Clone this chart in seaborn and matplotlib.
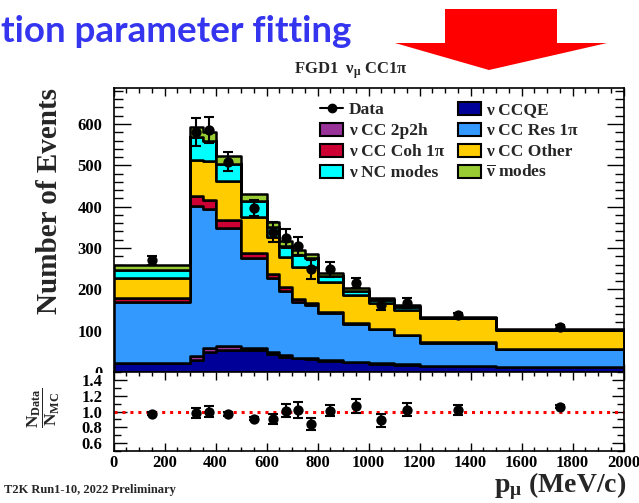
import numpy as np
import pandas as pd
import matplotlib
matplotlib.use("Agg")
import matplotlib.pyplot as plt
import seaborn as sns
from matplotlib.patches import Patch, Polygon, Rectangle
from matplotlib.lines import Line2D
from matplotlib.ticker import MultipleLocator, FormatStrFormatter

# ---------------- data ----------------
edges = [0, 300, 350, 400, 500, 600, 650, 700, 750, 800, 900, 1000, 1100, 1200, 1500, 2000]
centers = [150, 325, 375, 450, 550, 625, 675, 725, 775, 850, 950, 1050, 1150, 1350, 1750]

ccqe  = [22, 30, 48, 54, 53, 43, 37, 33, 31, 27, 23, 20, 18, 14, 12]
cc2p2h = [0.5, 9, 10, 8, 6, 6, 3, 2, 2, 2, 1, 1, 1, 1, 0.5]
ccres = [147.5, 362, 336, 287, 216, 179, 156, 134, 129, 113, 92, 82, 70, 56, 42.5]
cccoh = [10, 25, 23, 18, 13, 8, 9, 7, 5, 4, 2, 1, 1, 1, 0.5]
ccother = [47, 88, 93, 94, 86, 91, 74, 78, 88, 72, 68, 62, 60, 58, 45.5]
ncmodes = [20, 55, 49, 42, 40, 24, 26, 29, 21, 14, 11, 9, 8, 1, 1]
nubar = [11, 23, 22, 20, 16, 12, 12, 12, 9, 8, 5, 4, 4, 1, 1]

data = [270, 581, 585, 509, 396, 339, 323, 305, 248, 248, 216, 162, 167, 137, 109]
data_err = [10, 34, 32, 22, 19, 25, 24, 22, 22, 19, 12, 12, 12, 6, 5]

ratio = [0.97, 0.98, 1.00, 0.97, 0.91, 0.91, 1.01, 1.02, 0.84, 1.01, 1.07, 0.89, 1.02, 1.02, 1.06]
ratio_err = [0.02, 0.06, 0.067, 0.03, 0.02, 0.062, 0.083, 0.096, 0.08, 0.07, 0.087, 0.08, 0.083, 0.06, 0.02]

mode_names = ["ν CCQE", "ν CC 2p2h", "ν CC Res 1π", "ν CC Coh 1π", "ν CC Other",
              "ν NC modes", r"$\overline{\nu}$ modes"]
mode_values = [ccqe, cc2p2h, ccres, cccoh, ccother, ncmodes, nubar]
mode_colors = ["#000099", "#993399", "#3399ff", "#cc0033", "#ffcc00", "#00ffff", "#99cc33"]

# ---------------- style ----------------
sns.set_theme(style="ticks")
plt.rcParams.update({
    "font.family": ["Liberation Serif", "DejaVu Serif"],
    "font.weight": "bold",
    "mathtext.fontset": "custom",
    "mathtext.rm": "Liberation Serif:bold",
    "mathtext.it": "Liberation Serif:italic:bold",
    "mathtext.bf": "Liberation Serif:bold",
    "mathtext.default": "rm",
    "axes.linewidth": 1.2,
    "axes.edgecolor": "black",
    "xtick.direction": "in",
    "ytick.direction": "in",
    "xtick.color": "black",
    "ytick.color": "black",
})

W, H = 639, 503
fig = plt.figure(figsize=(W / 100, H / 100), dpi=100)

def fx(px):
    return px / W

def fy(py):
    return 1 - py / H

left, right = 113.5, 623.5
ax = fig.add_axes([fx(left), fy(372), (right - left) / W, (372 - 88) / H])
axr = fig.add_axes([fx(left), fy(451), (right - left) / W, (451 - 372) / H])
axr.set_zorder(3)

# ratio pad background covers the lower part of the main pad's labels (ROOT-like)
fig.patches.append(Rectangle((0, fy(451)), fx(left), (451 - 373) / H,
                             transform=fig.transFigure, facecolor="white",
                             edgecolor="none", zorder=2))

# ---------------- stacked histogram ----------------
rows = []
for name, vals in zip(mode_names, mode_values):
    for c, v in zip(centers, vals):
        rows.append({"p": c, "n": v, "mode": name})
df = pd.DataFrame(rows)

palette = dict(zip(mode_names, mode_colors))
hue_order = mode_names[::-1]  # seaborn stacks last level at the bottom
sns.histplot(data=df, x="p", weights="n", hue="mode", hue_order=hue_order,
             bins=edges, multiple="stack", element="step", fill=True,
             palette=palette, alpha=1, edgecolor="black", linewidth=1.8,
             legend=False, ax=ax)

# data points
ax.errorbar(centers, data, yerr=data_err, fmt="none", ecolor="black",
            elinewidth=1.5, capsize=3.5, capthick=1.5, zorder=5)
sns.scatterplot(x=centers, y=data, color="black", s=55, edgecolor="black",
                linewidth=0, zorder=6, ax=ax)

ax.set_xlim(0, 2000)
ax.set_ylim(0, 687)
ax.set_xlabel("")
ax.set_ylabel("")
ax.xaxis.set_major_locator(MultipleLocator(200))
ax.xaxis.set_minor_locator(MultipleLocator(50))
ax.yaxis.set_major_locator(MultipleLocator(100))
ax.yaxis.set_minor_locator(MultipleLocator(20))
ax.tick_params(axis="y", which="major", length=12, width=1, left=True, right=True,
               labelsize=12, pad=8)
ax.tick_params(axis="y", which="minor", length=6.5, width=1, left=True, right=True)
ax.tick_params(axis="x", which="major", length=6, width=1, top=True, bottom=True,
               labelbottom=False)
ax.tick_params(axis="x", which="minor", length=3.5, width=1, top=True, bottom=True)
for lab in ax.get_yticklabels():
    lab.set_fontweight("bold")

# legend
handles = [
    Line2D([0], [0], color="black", marker="o", ms=6, lw=1.5),
    Patch(facecolor=palette[mode_names[1]], edgecolor="black", lw=1.5),
    Patch(facecolor=palette[mode_names[3]], edgecolor="black", lw=1.5),
    Patch(facecolor=palette[mode_names[5]], edgecolor="black", lw=1.5),
    Patch(facecolor=palette[mode_names[0]], edgecolor="black", lw=1.5),
    Patch(facecolor=palette[mode_names[2]], edgecolor="black", lw=1.5),
    Patch(facecolor=palette[mode_names[4]], edgecolor="black", lw=1.5),
    Patch(facecolor=palette[mode_names[6]], edgecolor="black", lw=1.5),
]
labels = ["Data", mode_names[1], mode_names[3], mode_names[5],
          mode_names[0], mode_names[2], mode_names[4], mode_names[6]]
ax.legend(handles, labels, loc="upper left", bbox_to_anchor=(0.405, 0.952),
          ncol=2, frameon=False, prop={"size": 12.5, "weight": "bold"},
          handlelength=1.35, handleheight=0.8, handletextpad=0.3,
          columnspacing=0.8, labelspacing=0.25, borderpad=0, borderaxespad=0)

# ---------------- ratio panel ----------------
axr.axhline(1.0, color="red", lw=2.2, ls=(0, (1, 1.6)), zorder=1)
axr.errorbar(centers, ratio, yerr=ratio_err, fmt="none", ecolor="black",
             elinewidth=1.5, capsize=3.5, capthick=1.5, zorder=5)
sns.scatterplot(x=centers, y=ratio, color="black", s=55, linewidth=0, zorder=6, ax=axr)
axr.set_xlim(0, 2000)
axr.set_ylim(0.5, 1.5)
axr.xaxis.set_major_locator(MultipleLocator(200))
axr.xaxis.set_minor_locator(MultipleLocator(50))
axr.yaxis.set_major_locator(MultipleLocator(0.2))
axr.yaxis.set_minor_locator(MultipleLocator(0.1))
axr.yaxis.set_major_formatter(FormatStrFormatter("%.1f"))
axr.tick_params(axis="y", which="major", length=9, width=1, left=True, right=True,
                labelsize=12, pad=8)
axr.tick_params(axis="y", which="minor", length=5, width=1, left=True, right=True)
axr.tick_params(axis="x", which="major", length=6, width=1, top=True, bottom=True,
                labelsize=12, pad=3)
axr.tick_params(axis="x", which="minor", length=3, width=1, top=True, bottom=True)
for lab in axr.get_xticklabels() + axr.get_yticklabels():
    lab.set_fontweight("bold")

# ---------------- texts ----------------
fig.text(fx(50), fy(88), "Number of Events", rotation=90, ha="center", va="top",
         fontsize=21, fontweight="bold")
fig.text(fx(44), fy(408), r"$\dfrac{N_{Data}}{N_{MC}}$", rotation=90,
         ha="center", va="center", fontsize=12.5, zorder=4)
fig.text(fx(626), fy(486), r"p$_{\mu}$ (MeV/c)", ha="right", va="center",
         fontsize=20, fontweight="bold", zorder=4)
fig.text(fx(4), fy(490), "T2K Run1-10, 2022 Preliminary", ha="left", va="center",
         fontsize=9, fontweight="bold", zorder=4)
fig.text(fx(351), fy(71), r"FGD1  $\nu_{\mu}$ CC1$\pi$", ha="center", va="center",
         fontsize=12, fontweight="bold")
fig.text(fx(1), fy(32), "tion parameter fitting", ha="left", va="center",
         fontsize=26.5, fontweight="bold", family=["Lato", "DejaVu Sans"],
         color="#3535f0")

# red arrow
arrow_px = [(445, 9), (557, 9), (557, 43), (607, 43), (489, 70), (395, 43), (445, 43)]
fig.patches.append(Polygon([(fx(x), fy(y)) for x, y in arrow_px], closed=True,
                           transform=fig.transFigure, facecolor="#ff0000",
                           edgecolor="none"))

fig.savefig("out.png", dpi=100)
